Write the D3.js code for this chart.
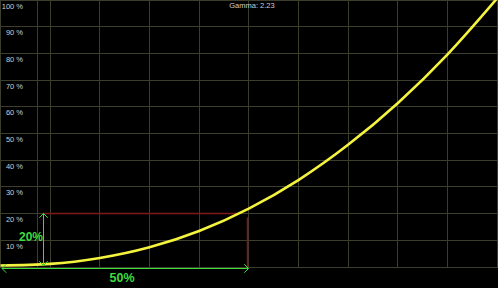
<!DOCTYPE html>
<html>
<head>
<meta charset="utf-8">
<script src="https://cdn.jsdelivr.net/npm/d3@7"></script>
<style>
  html, body { margin: 0; padding: 0; background: #000; }
  svg { display: block; }
</style>
</head>
<body>
<div id="chart"></div>
<script>
// values
const gamma = 2.23
const inputPct = [0, 10, 20, 30, 40, 50, 60, 70, 80, 90, 100]
const outputPct = [0, 0.6, 2.8, 6.8, 12.9, 21.3, 32.0, 45.2, 60.8, 79.0, 100]
const yTicks = [10, 20, 30, 40, 50, 60, 70, 80, 90, 100]
const yTickLabels = ["10 %", "20 %", "30 %", "40 %", "50 %", "60 %", "70 %", "80 %", "90 %", "100 %"]
const xGrid = [0, 10, 20, 30, 40, 50, 60, 70, 80, 90, 100]
const markIn = 50
const markOut = 20
const markInLabel = "50%"
const markOutLabel = "20%"

const W = 498, H = 288
const gridCol = "#3d3d2b"
const green = "#3ddc3d"
const red = "#801818"

let svg = d3.select("#chart").append("svg")
    .attr("width", W).attr("height", H)
    .style("background", "#000")

let x = d3.scaleLinear().domain([0, 100]).range([0.5, 497])
let y = d3.scaleLinear().domain([0, 100]).range([267, 0])
const px = v => Math.floor(x(v)) + 0.5
const py = v => Math.floor(y(v)) + 0.5

// grid
let grid = svg.append("g").attr("stroke", gridCol).attr("stroke-width", 1)
grid.selectAll("line.v").data(xGrid).join("line")
    .attr("class", "v")
    .attr("x1", d => px(d)).attr("x2", d => px(d))
    .attr("y1", 0).attr("y2", py(0))
grid.append("line")   // label column separator
    .attr("x1", 37.5).attr("x2", 37.5)
    .attr("y1", 0).attr("y2", py(0))
grid.selectAll("line.h").data([0].concat(yTicks)).join("line")
    .attr("class", "h")
    .attr("x1", 0).attr("x2", W)
    .attr("y1", d => py(d)).attr("y2", d => py(d))

// y labels sit just under their grid line
svg.append("g")
    .selectAll("text").data(yTicks).join("text")
    .attr("x", 23).attr("y", d => y(d) + 8.5)
    .attr("text-anchor", "end")
    .attr("font-family", "Liberation Sans, Arial, sans-serif")
    .attr("font-size", 7.5)
    .attr("fill", "#cfcfcf")
    .text((d, i) => yTickLabels[i])

svg.append("text")
    .attr("x", 252).attr("y", 8)
    .attr("text-anchor", "middle")
    .attr("font-family", "Liberation Sans, Arial, sans-serif")
    .attr("font-size", 7.5)
    .attr("fill", "#cfcfcf")
    .text("Gamma: " + gamma)

// red guides
let curvePts = inputPct.map((v, i) => [v, outputPct[i]])
let invAt = d3.scaleLinear().domain(outputPct).range(inputPct)
svg.append("line")
    .attr("x1", 43).attr("x2", x(invAt(markOut)) - 4)
    .attr("y1", py(markOut)).attr("y2", py(markOut))
    .attr("stroke", red).attr("stroke-width", 1.5)
svg.append("line")
    .attr("x1", px(markIn) - 1).attr("x2", px(markIn) - 1)
    .attr("y1", py(0)).attr("y2", py(markOut) + 4)
    .attr("stroke", red).attr("stroke-width", 1.5)

// the gamma curve
let line = d3.line()
    .x(d => x(d[0]))
    .y(d => y(d[1]) - 1.5)
    .curve(d3.curveMonotoneX)
svg.append("path")
    .datum(curvePts)
    .attr("d", line)
    .attr("fill", "none")
    .attr("stroke", "#f4f43e")
    .attr("stroke-width", 2.6)

// green double arrows
const arrow = (g, x1, y1, x2, y2) => {
    let a = Math.atan2(y2 - y1, x2 - x1), L = 6, s = Math.PI / 4
    g.append("line").attr("x1", x1).attr("y1", y1).attr("x2", x2).attr("y2", y2)
    ;[[x1, y1, a], [x2, y2, a + Math.PI]].forEach(([tx, ty, ang]) => {
        g.append("path").attr("fill", "none")
            .attr("d", d3.line()([
                [tx + L * Math.cos(ang - s), ty + L * Math.sin(ang - s)],
                [tx, ty],
                [tx + L * Math.cos(ang + s), ty + L * Math.sin(ang + s)]
            ]))
    })
}
let ga = svg.append("g").attr("stroke", green).attr("stroke-width", 1)
arrow(ga, 43.5, py(markOut), 43.5, py(0) - 2)
arrow(ga, 2, 268.5, px(markIn), 268.5)

svg.append("text")
    .attr("x", 43).attr("y", 240.5)
    .attr("text-anchor", "end")
    .attr("font-family", "Liberation Sans, Arial, sans-serif")
    .attr("font-weight", "bold")
    .attr("font-size", 12)
    .attr("fill", green)
    .text(markOutLabel)

svg.append("text")
    .attr("x", 122).attr("y", 282)
    .attr("text-anchor", "middle")
    .attr("font-family", "Liberation Sans, Arial, sans-serif")
    .attr("font-weight", "bold")
    .attr("font-size", 12.5)
    .attr("fill", green)
    .text(markInLabel)
</script>
</body>
</html>
